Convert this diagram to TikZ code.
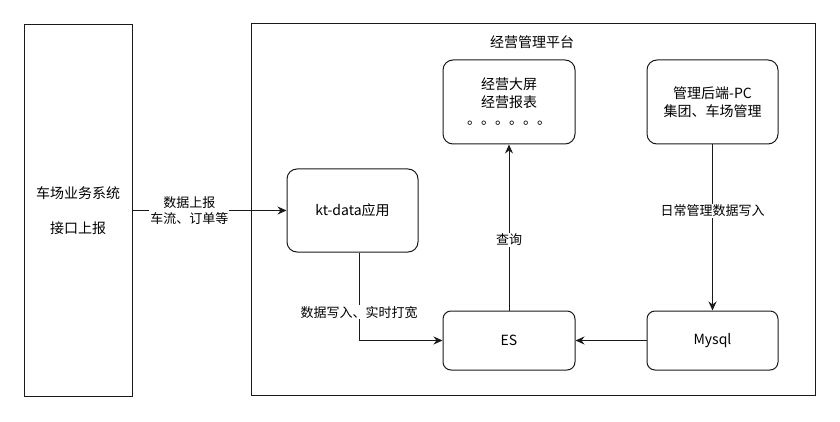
\documentclass[tikz,border=0pt]{standalone}
\usepackage{fontspec}
\usepackage{xcolor}
\setmainfont{Noto Sans CJK SC}
\usetikzlibrary{arrows.meta, positioning}
\definecolor{LineGray}{HTML}{1A1A1A}

\begin{document}
\begin{tikzpicture}[x=1pt, y=-1pt,
    box/.style={draw=LineGray, line width=1pt, rounded corners=10pt, align=center,
                font=\fontsize{14}{17.5}\selectfont},
    plainbox/.style={draw=LineGray, line width=1pt, align=center,
                font=\fontsize{14}{17.5}\selectfont},
    flow/.style={draw=LineGray, line width=1pt,
                 -{Stealth[length=9pt, width=8pt, inset=3pt]}},
    lbl/.style={fill=white, inner sep=1pt, align=center,
                font=\fontsize{13}{16}\selectfont}]
    \useasboundingbox (0,0) rectangle (840,422);

    % outer frames
    \node[plainbox, minimum width=108pt, minimum height=371pt] (sys) at (78,210.5)
        {车场业务系统\\[17.5pt]接口上报};
    \node[plainbox, minimum width=564pt, minimum height=371pt] (platform) at (533,209.5) {};
    \node[font=\fontsize{14}{17.5}\selectfont] (title) at (532,42) {经营管理平台};

    % platform parts
    \node[box, minimum width=131pt, minimum height=83pt] (kt) at (352.5,210.5) {kt-data应用};
    \node[box, minimum width=132pt, minimum height=84pt] (screen) at (509,102)
        {经营大屏\\经营报表\\。。。。。。};
    \node[box, minimum width=131pt, minimum height=84pt] (admin) at (712.5,102)
        {管理后端-PC\\集团、车场管理};
    \node[box, rounded corners=8pt, minimum width=132pt, minimum height=59pt] (es) at (509,340.5) {ES};
    \node[box, rounded corners=8pt, minimum width=131pt, minimum height=59pt] (mysql) at (712.5,340.5) {Mysql};

    % data flows
    \draw[flow] (sys) -- node[lbl, pos=0.37] {数据上报\\车流、订单等} (kt);
    \draw[flow] ([xshift=6.5pt]kt.south) |- node[lbl, pos=0.34] {数据写入、实时打宽} (es.west);
    \draw[flow] (es) -- node[lbl, pos=0.425] {查询} (screen);
    \draw[flow] (admin) -- node[lbl, pos=0.40] {日常管理数据写入} (mysql);
    \draw[flow] (mysql) -- (es);
\end{tikzpicture}
\end{document}
